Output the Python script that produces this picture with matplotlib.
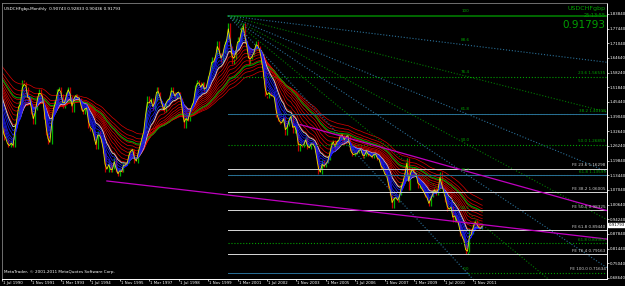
import matplotlib.pyplot as plt
import matplotlib.transforms as mtransforms
import numpy as np
import pandas as pd

# monthly closes Jan 1986 - Jun 1990, only used to warm up the averages (left of the chart)
warmup = [2.00, 1.90, 1.92, 1.82, 1.85, 1.78, 1.68, 1.65, 1.65, 1.70, 1.68, 1.63,
          1.55, 1.54, 1.50, 1.45, 1.47, 1.52, 1.53, 1.50, 1.51, 1.42, 1.34, 1.28,
          1.36, 1.40, 1.38, 1.39, 1.45, 1.50, 1.55, 1.60, 1.56, 1.47, 1.42, 1.50,
          1.57, 1.58, 1.64, 1.68, 1.74, 1.65, 1.62, 1.67, 1.62, 1.62, 1.58, 1.54,
          1.50, 1.49, 1.49, 1.47, 1.42, 1.39]
# Jul 1990 - Dec 1999
closes_90s = [1.34, 1.29, 1.29, 1.26, 1.26, 1.28,
              1.26, 1.36, 1.40, 1.46, 1.45, 1.55, 1.54, 1.52, 1.45, 1.47, 1.40, 1.36,
              1.42, 1.48, 1.51, 1.49, 1.47, 1.38, 1.31, 1.27, 1.27, 1.40, 1.46, 1.46,
              1.51, 1.52, 1.49, 1.43, 1.45, 1.50, 1.52, 1.48, 1.41, 1.48, 1.49, 1.47,
              1.47, 1.42, 1.40, 1.43, 1.43, 1.34, 1.33, 1.33, 1.29, 1.25, 1.33, 1.31,
              1.28, 1.23, 1.15, 1.15, 1.19, 1.15, 1.16, 1.21, 1.15, 1.13, 1.16, 1.15,
              1.19, 1.18, 1.19, 1.24, 1.25, 1.25, 1.19, 1.19, 1.25, 1.28, 1.31, 1.34,
              1.43, 1.48, 1.45, 1.47, 1.42, 1.46, 1.52, 1.50, 1.46, 1.43, 1.41, 1.46,
              1.47, 1.47, 1.52, 1.50, 1.47, 1.50, 1.50, 1.47, 1.39, 1.34, 1.39, 1.37,
              1.42, 1.45, 1.46, 1.53, 1.55, 1.54, 1.51, 1.54, 1.50, 1.52, 1.57, 1.60]
# Jan 2000 - Dec 2009
closes_00s = [1.65, 1.63, 1.66, 1.72, 1.67, 1.63, 1.67, 1.72, 1.73, 1.80, 1.70, 1.62,
              1.64, 1.68, 1.74, 1.72, 1.78, 1.80, 1.72, 1.68, 1.62, 1.64, 1.66, 1.68,
              1.72, 1.70, 1.67, 1.62, 1.56, 1.48, 1.47, 1.50, 1.48, 1.48, 1.47, 1.39,
              1.37, 1.36, 1.36, 1.39, 1.31, 1.35, 1.39, 1.40, 1.32, 1.35, 1.32, 1.24,
              1.27, 1.26, 1.27, 1.30, 1.25, 1.25, 1.28, 1.27, 1.25, 1.19, 1.14, 1.14,
              1.20, 1.17, 1.19, 1.20, 1.24, 1.28, 1.29, 1.25, 1.29, 1.29, 1.32, 1.31,
              1.28, 1.31, 1.31, 1.24, 1.22, 1.22, 1.23, 1.23, 1.25, 1.25, 1.21, 1.22,
              1.25, 1.22, 1.22, 1.21, 1.23, 1.23, 1.20, 1.20, 1.16, 1.16, 1.13, 1.13,
              1.08, 1.05, 0.99, 1.04, 1.04, 1.02, 1.05, 1.10, 1.12, 1.16, 1.21, 1.07,
              1.16, 1.17, 1.14, 1.14, 1.08, 1.09, 1.07, 1.06, 1.04, 1.03, 1.00, 1.04]
# Jan 2010 - Apr 2012
closes_10s = [1.06, 1.08, 1.05, 1.08, 1.15, 1.08, 1.05, 1.02, 0.98, 0.98, 1.00, 0.93,
              0.96, 0.93, 0.92, 0.87, 0.86, 0.84, 0.79, 0.80, 0.90, 0.88, 0.92, 0.94,
              0.92, 0.90, 0.90, 0.91793]

blue_spans = [3, 4, 5, 6, 8, 10]
red_spans = [13, 16, 20, 24, 28, 33, 38, 44, 50, 60]
white_span = 12
green_span = 40

x_labels = ['1 Jul 1990', '1 Nov 1991', '1 Mar 1993', '1 Jul 1994', '1 Nov 1995',
            '1 Mar 1997', '1 Jul 1998', '1 Nov 1999', '1 Mar 2001', '1 Jul 2002',
            '1 Nov 2003', '1 Mar 2005', '1 Jul 2006', '1 Nov 2007', '1 Mar 2009',
            '1 Jul 2010', '1 Nov 2011']
y_ticks = [1.8384, 1.7744, 1.7104, 1.6464, 1.5824, 1.5184, 1.4544, 1.3904, 1.3264,
           1.2624, 1.1984, 1.1344, 1.0704, 1.0064, 0.9424, 0.8784, 0.8144, 0.7504, 0.6864]

# fibonacci fan / retracement between the Oct 2000 top and the Aug 2011 low
fan_start, fan_end = 123, 253
fan_levels = ['100', '88.6', '76.4', '61.8', '50.0', '38.2', '23.6', '0.0']
fan_prices = [1.8305, 1.7024, 1.5653, 1.4012, 1.2686, 1.1360, 0.9719, 0.7067]
retr_labels = ['23.6 1.56535', '38.2 1.40118', '50.0 1.26859', '61.8 1.13599', '61.8 0.83960']
retr_prices = [1.5653, 1.4012, 1.2686, 1.1360, 0.8396]
fe_labels = ['FE 23.6 1.16298', 'FE 38.2 1.06005', 'FE 50.0 0.98325',
             'FE 61.8 0.89440', 'FE 76.4 0.79163', 'FE 100.0 0.71634']
fe_prices = [1.1630, 1.0610, 0.9833, 0.8944, 0.7916, 0.7163]
# two trend lines (month index, price)
trend_a = ([57, 329], [1.1098, 0.8560])
trend_b = ([162, 329], [1.3559, 0.9800])

closes = closes_90s + closes_00s + closes_10s
all_closes = pd.Series(warmup + closes)
n0 = len(warmup)
idx = np.arange(len(all_closes)) - n0
opens = all_closes.shift(1).fillna(all_closes.iloc[0])

fig = plt.figure(figsize=(6.25, 2.86), dpi=100, facecolor='black')
ax = fig.add_axes([2 / 625, 1 - 279 / 286, 605 / 625, 276 / 286], facecolor='black')

up = all_closes >= opens
ax.vlines(idx[up], opens[up], all_closes[up], color='#00b000', lw=0.9)
ax.vlines(idx[~up], opens[~up], all_closes[~up], color='#c00000', lw=0.9)

for sp in red_spans:
    ax.plot(idx, all_closes.ewm(span=sp, adjust=False).mean(), color='#e00000', lw=0.5)
ax.plot(idx, all_closes.ewm(span=green_span, adjust=False).mean(), color='#00a000', lw=0.8)
ax.plot(idx, all_closes.ewm(span=white_span, adjust=False).mean(), color='#c8c8c8', lw=0.7)
for sp in blue_spans:
    ax.plot(idx, all_closes.ewm(span=sp, adjust=False).mean(), color='#1a1aff', lw=0.5)
ax.plot(idx, all_closes.ewm(span=2, adjust=False).mean(), color='#e8e800', lw=0.6)

x_right = 328.8
# fan lines
for i, (lv, pr) in enumerate(zip(fan_levels, fan_prices)):
    k = (pr - fan_prices[0]) / (fan_end - fan_start)
    col = '#007a00' if i % 2 == 0 else '#2a6f97'
    ls = '-' if i == 0 else ':'
    ax.plot([fan_start, x_right], [fan_prices[0], fan_prices[0] + k * (x_right - fan_start)],
            color=col, lw=1.2 if i == 0 else 0.8, ls=ls)
    ax.text(fan_end - 1, pr + 0.012, lv, color='#00a000', fontsize=3.0, ha='center', va='bottom')

# retracement levels
for lab, pr in zip(retr_labels, retr_prices):
    ax.plot([fan_start, x_right], [pr, pr], color='#00a000', lw=0.8, ls=':')
    ax.text(x_right - 0.8, pr + 0.006, lab, color='#00a000', fontsize=3.0, ha='right', va='bottom')
for pr in [1.4012, 1.1360]:
    ax.plot([fan_start, x_right], [pr, pr], color='#2a6f97', lw=0.7)
ax.plot([fan_start, fan_end], [0.7067, 0.7067], color='#2a6f97', lw=0.7)
ax.plot([fan_end, x_right], [0.7067, 0.7067], color='#00a000', lw=0.8, ls=':')

# expansion levels
for lab, pr in zip(fe_labels, fe_prices):
    if lab.startswith('FE 100'):
        ax.text(x_right - 0.8, 0.7067 + 0.012, lab, color='#d0d0d0', fontsize=3.0, ha='right', va='bottom')
        continue
    ax.plot([fan_start, x_right], [pr, pr], color='#d8d8d8', lw=0.7)
    ax.text(x_right - 0.8, pr + 0.006, lab, color='#d0d0d0', fontsize=3.0, ha='right', va='bottom')

ax.plot(trend_a[0], trend_a[1], color='#c000c0', lw=0.9)
ax.plot(trend_b[0], trend_b[1], color='#c000c0', lw=0.9)

ax.set_xlim(0, x_right)
ax.set_ylim(0.6820, 1.8864)

ax.set_xticks(np.arange(len(x_labels)) * 16)
ax.set_xticklabels(x_labels, ha='left')
ax.yaxis.tick_right()
ax.set_yticks(y_ticks)
ax.set_yticklabels([f'{v:.5f}' for v in y_ticks])
ax.tick_params(colors='white', labelsize=2.8, length=1.2, width=0.5, pad=0.5)
for lab in ax.get_xticklabels():
    lab.set_transform(lab.get_transform() + mtransforms.ScaledTranslation(1 / 100, 0, fig.dpi_scale_trans))
for side in ['left', 'top']:
    ax.spines[side].set_color('#808080')
    ax.spines[side].set_linewidth(0.6)
for side in ['right', 'bottom']:
    ax.spines[side].set_color('white')
    ax.spines[side].set_linewidth(0.7)

# texts
ax.text(0.003, 0.985, 'USDCHFgbp,Monthly  0.90743 0.92833 0.90436 0.91793', transform=ax.transAxes,
        color='white', fontsize=3.0, ha='left', va='top')
ax.text(0.003, 0.018, 'MetaTrader, \u00a9 2001-2011 MetaQuotes Software Corp.', transform=ax.transAxes,
        color='white', fontsize=3.0, ha='left', va='bottom')
ax.text(0.998, 0.99, 'USDCHFgbp', transform=ax.transAxes, color='#00a000', fontsize=4.5, ha='right', va='top')
ax.text(0.998, 0.962, '25:13:55', transform=ax.transAxes, color='#00a000', fontsize=3.6, ha='right', va='top')
ax.text(0.998, 0.94, '0.91793', transform=ax.transAxes, color='#00a000', fontsize=7.5, ha='right', va='top')

trans = mtransforms.blended_transform_factory(ax.transAxes, ax.transData)
ax.text(1.003, closes[-1], '0.91793', transform=trans, color='black', fontsize=2.8, ha='left', va='center',
        bbox=dict(boxstyle='square,pad=0.1', fc='white', ec='white'), clip_on=False)

fig.savefig('out.png', dpi=100, facecolor='black')
